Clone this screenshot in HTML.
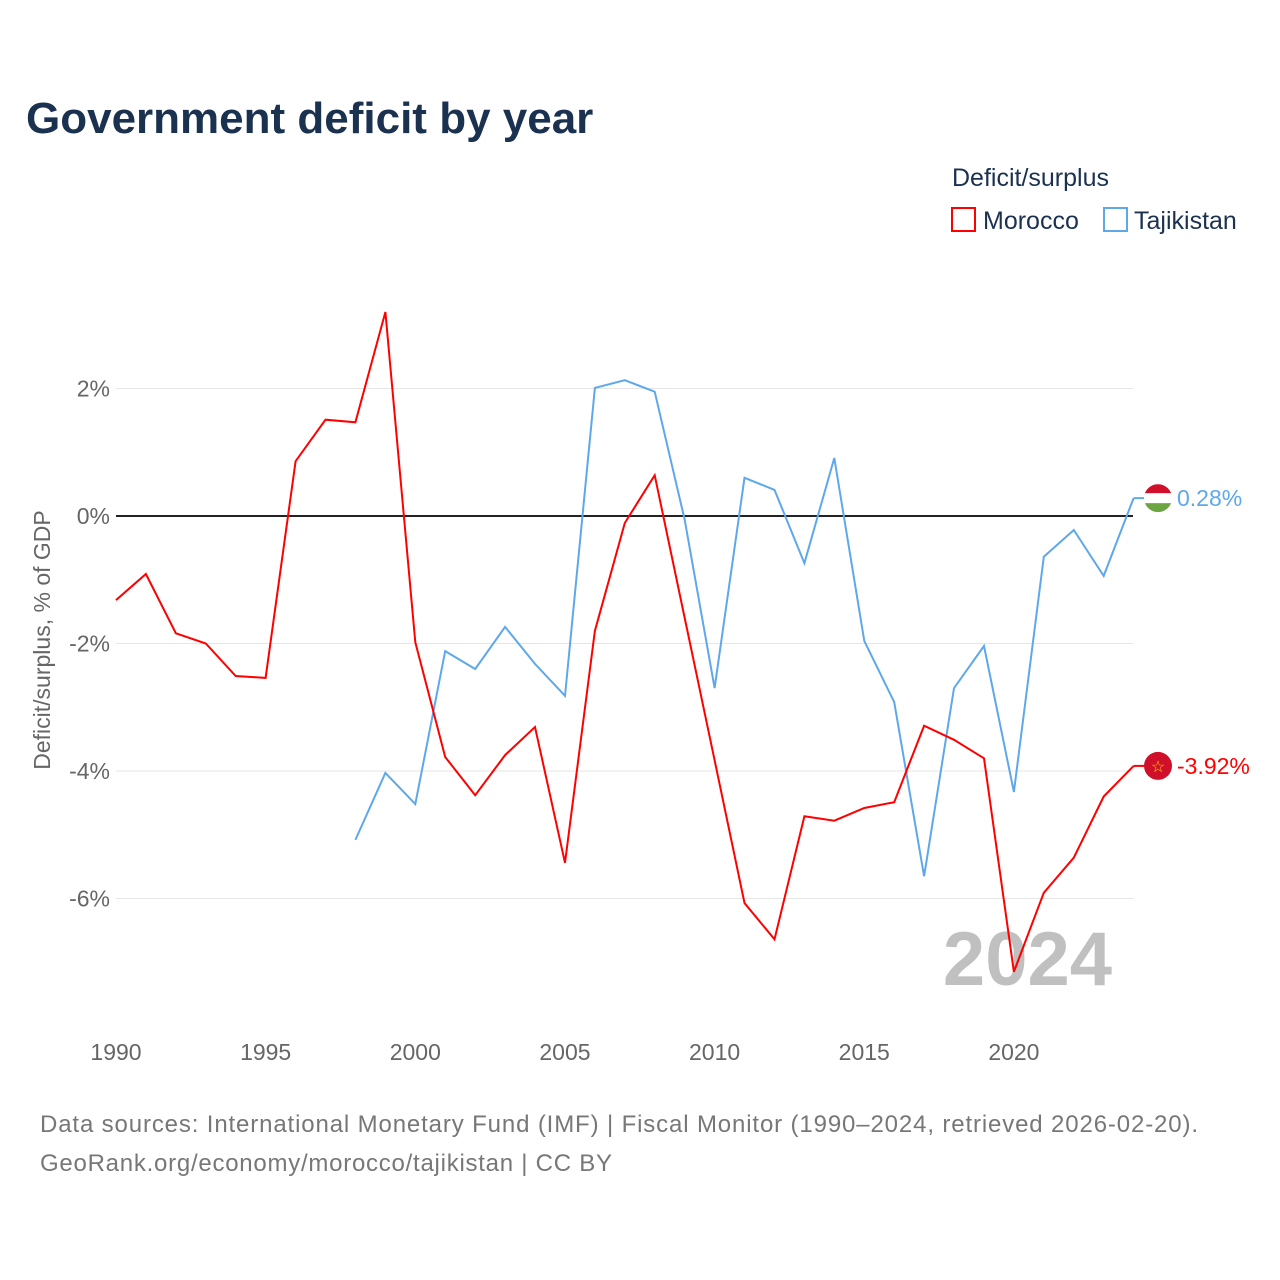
<!DOCTYPE html>
<html><head><meta charset="utf-8">
<style>
body{margin:0;background:#fff;font-family:"Liberation Sans",sans-serif;}
#wrap{position:relative;width:1280px;height:1280px;overflow:hidden;}
</style></head>
<body>
<div id="wrap">
<svg id="svg" width="1280" height="1280" xmlns="http://www.w3.org/2000/svg">
<defs><clipPath id="fc"><circle cx="1158" cy="498" r="14"/></clipPath></defs>
<text x="26" y="133" font-size="44" font-weight="bold" fill="#1b3150">Government deficit by year</text>
<text x="952" y="186" font-size="25" fill="#1b3150">Deficit/surplus</text>
<g><rect x="952" y="208" width="23" height="23" fill="none" stroke="#f00" stroke-width="2"/><text x="983" y="229" font-size="25" fill="#1b3150">Morocco</text></g>
<g><rect x="1104" y="208" width="23" height="23" fill="none" stroke="#5ea8ea" stroke-width="2"/><text x="1134" y="229" font-size="25" fill="#1b3150">Tajikistan</text></g>
<text x="1112" y="985" font-size="76" font-weight="bold" fill="#c0c0c0" text-anchor="end">2024</text>
<text transform="translate(50,640) rotate(-90)" font-size="23" fill="#666" text-anchor="middle">Deficit/surplus, % of GDP</text>
<g id="grid"></g><g id="lines"></g><g id="labels"></g>
<text x="40" y="1132" font-size="24" fill="#777" textLength="1158">Data sources: International Monetary Fund (IMF) | Fiscal Monitor (1990–2024, retrieved 2026-02-20).</text>
<text x="40" y="1171" font-size="24" fill="#777" textLength="572">GeoRank.org/economy/morocco/tajikistan | CC BY</text>
</svg>
</div>
<script>
const years=[1990,1991,1992,1993,1994,1995,1996,1997,1998,1999,2000,2001,2002,2003,2004,2005,2006,2007,2008,2009,2010,2011,2012,2013,2014,2015,2016,2017,2018,2019,2020,2021,2022,2023,2024];
const morocco=[-1.32,-0.91,-1.84,-2.0,-2.51,-2.54,0.86,1.51,1.47,3.2,-1.98,-3.78,-4.38,-3.75,-3.31,-5.44,-1.8,-0.11,0.64,-1.6,-3.83,-6.07,-6.64,-4.71,-4.78,-4.58,-4.49,-3.29,-3.51,-3.8,-7.15,-5.91,-5.36,-4.4,-3.92];
const tajik=[null,null,null,null,null,null,null,null,-5.08,-4.03,-4.52,-2.12,-2.4,-1.74,-2.32,-2.82,2.01,2.13,1.95,-0.06,-2.7,0.6,0.41,-0.74,0.91,-1.96,-2.92,-5.65,-2.7,-2.04,-4.33,-0.64,-0.22,-0.94,0.28];
const yTicks=[2,0,-2,-4,-6];
const xTicks=[1990,1995,2000,2005,2010,2015,2020];
const X=y=>116+(y-1990)*29.93;
const Y=v=>516-v*63.75;
const NS="http://www.w3.org/2000/svg";
function mk(t,a,p){const e=document.createElementNS(NS,t);for(const k in a)e.setAttribute(k,a[k]);p.appendChild(e);return e;}
const grid=document.getElementById('grid'),lines=document.getElementById('lines'),labels=document.getElementById('labels');
yTicks.forEach(v=>{
 const l=mk('line',{x1:116,x2:1133,y1:Y(v),y2:Y(v),stroke:v===0?'#222':'#e6e6e6','stroke-width':v===0?2:1},grid);
 
 
 const t=mk('text',{x:110,y:Y(v)+8,'font-size':23,fill:'#666','text-anchor':'end'},grid);
 t.textContent=v+'%';
 
 
});
xTicks.forEach(yr=>{
 const t=mk('text',{x:X(yr),y:1060,'font-size':23,fill:'#666','text-anchor':'middle'},grid);
 t.textContent=yr;
 
 
});
function series(vals,color,name){
 let d='';vals.forEach((v,i)=>{if(v===null)return;d+=(d?'L':'M')+X(years[i]).toFixed(1)+','+Y(v).toFixed(1);});
 const p=mk('path',{d:d,fill:'none',stroke:color,'stroke-width':2},lines);
 
 
 const last=vals[vals.length-1];
 const ly=Y(last);
 mk('line',{x1:X(2024),x2:1146,y1:ly,y2:ly,stroke:color,'stroke-width':2},lines);
 const g=mk('g',{},labels);
 
 
 if(name==='tajikistan'){
  document.querySelector('#fc circle').setAttribute('cy',ly);
  const fg=mk('g',{'clip-path':'url(#fc)'},g);
  mk('rect',{x:1144,y:ly-14,width:28,height:28,fill:'#fff'},fg);
  mk('rect',{x:1144,y:ly-14,width:28,height:9,fill:'#d0102a'},fg);
  mk('rect',{x:1144,y:ly+5,width:28,height:9,fill:'#6da544'},fg);
 } else {
  mk('circle',{cx:1158,cy:ly,r:14,fill:'#d0102a'},g);
  const s=mk('text',{x:1158,y:ly+6,'font-size':16,fill:'#f5d000','text-anchor':'middle'},g);s.textContent='☆';
 }
 const t=mk('text',{x:1177,y:ly+8,'font-size':23,fill:color},labels);
 t.textContent=last.toFixed(2)+'%';
 
 
}
series(tajik,'#5ea8ea','tajikistan');
series(morocco,'#f00','morocco');
</script>
</body></html>
